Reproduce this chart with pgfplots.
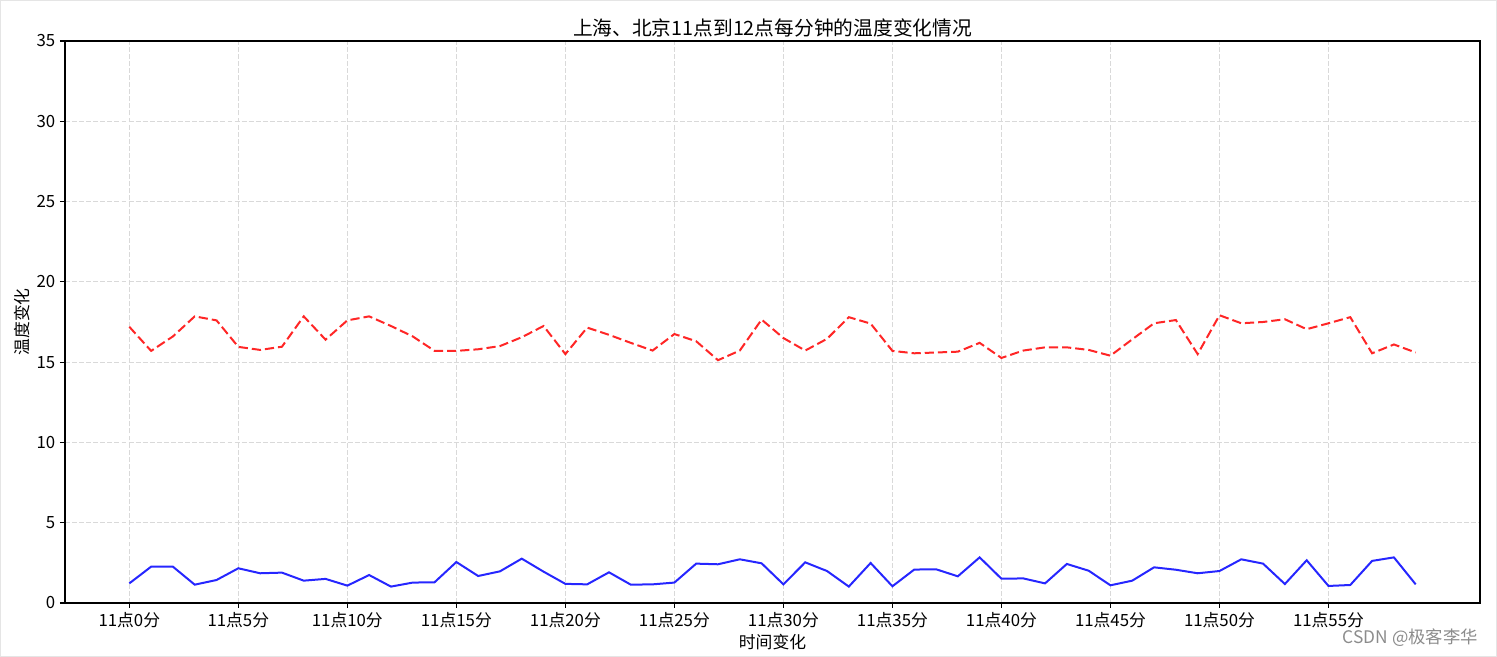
\documentclass[border=0pt]{standalone}
\usepackage{fontspec}
\setmainfont{Noto Sans CJK SC}
\usepackage{pgfplots}
\pgfplotsset{compat=1.18}
\usepackage{pgfplotstable}
\pgfplotstableread{
x sh bj
0 17.2 1.22
1 15.7 2.26
2 16.6 2.26
3 17.85 1.14
4 17.6 1.43
5 15.95 2.16
6 15.76 1.85
7 15.96 1.89
8 17.85 1.39
9 16.4 1.50
10 17.6 1.08
11 17.85 1.74
12 17.25 1.02
13 16.6 1.27
14 15.7 1.29
15 15.7 2.55
16 15.8 1.68
17 16.0 1.97
18 16.55 2.76
19 17.25 1.95
20 15.5 1.19
21 17.15 1.16
22 16.7 1.91
23 16.2 1.14
24 15.72 1.16
25 16.75 1.27
26 16.3 2.45
27 15.12 2.41
28 15.72 2.72
29 17.65 2.47
30 16.5 1.16
31 15.72 2.53
32 16.45 1.99
33 17.8 1.02
34 17.4 2.49
35 15.7 1.04
36 15.55 2.08
37 15.6 2.10
38 15.65 1.66
39 16.2 2.84
40 15.26 1.51
41 15.72 1.53
42 15.92 1.22
43 15.92 2.43
44 15.76 2.01
45 15.4 1.10
46 16.42 1.39
47 17.42 2.22
48 17.62 2.07
49 15.5 1.85
50 17.92 1.99
51 17.42 2.72
52 17.5 2.45
53 17.67 1.18
54 17.05 2.66
55 17.42 1.06
56 17.8 1.12
57 15.55 2.62
58 16.1 2.84
59 15.6 1.16
}\datatable
\begin{document}
\begin{tikzpicture}
\begin{axis}[
  scale only axis,
  width=1061.25pt, height=421.5pt,
  xmin=-2.95, xmax=61.95, ymin=0, ymax=35,
  xtick={0,5,...,55},
  xticklabels={11点0分,11点5分,11点10分,11点15分,11点20分,11点25分,11点30分,11点35分,11点40分,11点45分,11点50分,11点55分},
  ytick={0,5,...,35},
  tick align=outside,
  major tick length=3.75pt,
  tick style={black, line width=0.8pt},
  axis line style={black, line width=0.9pt},
  xtick pos=bottom, ytick pos=left,
  /pgf/number format/assume math mode=true,
  ticklabel style={font=\fontsize{12.6}{14}\selectfont, text=black},
  grid=major,
  major grid style={gray!30, dash pattern=on 3.7pt off 1.6pt, line width=0.6pt},
  title={上海、北京11点到12点每分钟的温度变化情况},
  title style={font=\fontsize{14.8}{16}\selectfont, inner sep=0pt, anchor=base, yshift=-1.7pt, text=black},
  xlabel={时间变化},
  ylabel={温度变化},
  label style={font=\fontsize{12.6}{14}\selectfont, text=black},
  xlabel style={at={(axis description cs:0.5,0)}, anchor=center, yshift=-29pt},
  ylabel style={at={([xshift=-32pt]axis description cs:0,0.5)}, anchor=center},
]
\addplot[red, opacity=0.85, line width=1.5pt, dash pattern=on 6.9pt off 3pt] table[x=x, y=sh] {\datatable};
\addplot[blue, opacity=0.85, line width=1.5pt] table[x=x, y=bj] {\datatable};
\end{axis}
\node[anchor=east, text=gray!90, font=\fontsize{13}{14}\selectfont] at ([xshift=2pt, yshift=-26pt]current axis.south east) {CSDN @极客李华};
\pgfresetboundingbox
\path[use as bounding box] ([xshift=-48.75pt,yshift=-40.5pt]current axis.south west) rectangle ([xshift=12.75pt,yshift=30.75pt]current axis.north east);
\draw[gray!20, line width=1pt] ([xshift=-48.25pt,yshift=-40pt]current axis.south west) rectangle ([xshift=12.25pt,yshift=30.25pt]current axis.north east);
\end{tikzpicture}
\end{document}
